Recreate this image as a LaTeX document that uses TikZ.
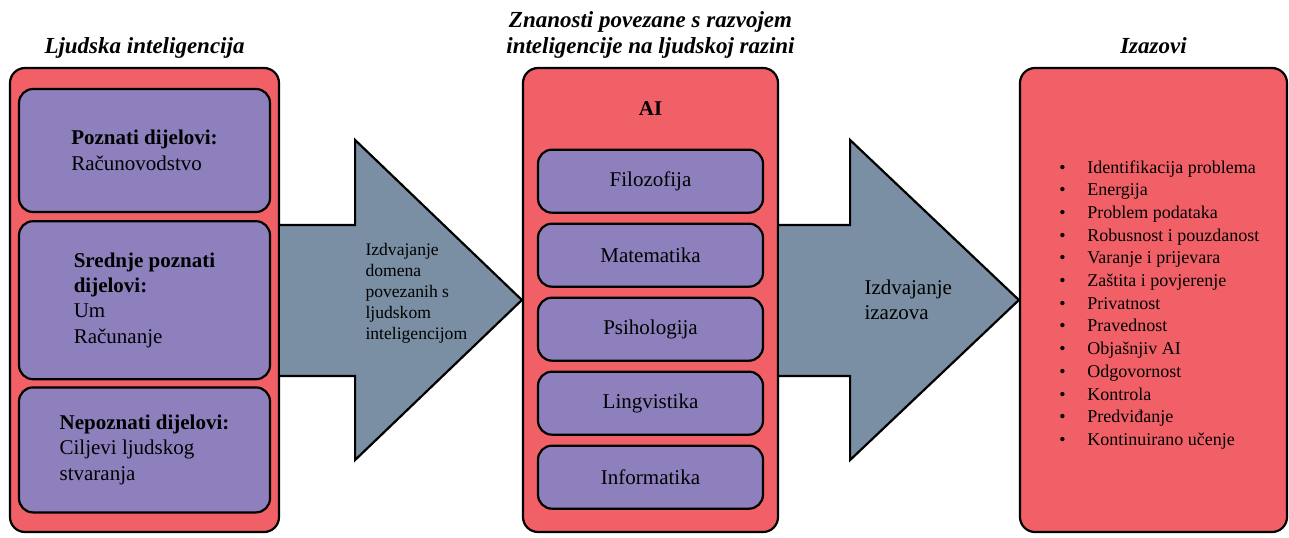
\documentclass[tikz,border=0pt]{standalone}
\usepackage{fontspec}
\setmainfont{Liberation Serif}[Ligatures=TeX]
\usepackage{tikz}
\usetikzlibrary{positioning, calc}
\definecolor{crvena}{HTML}{F06066}
\definecolor{ljubicasta}{HTML}{8E80BD}
\definecolor{siva}{HTML}{7A8FA3}
\tikzset{
    okvir/.style = {draw=black, line width=1.1pt, fill=crvena,
        rounded corners=7.5pt, minimum height=232pt, inner sep=0pt},
    kutija/.style = {draw=black, line width=1.1pt, fill=ljubicasta,
        rounded corners=7pt, inner sep=0pt, align=left,
        font=\fontsize{10.5}{12.7}\selectfont},
    lijeva/.style = {kutija, minimum width=125.5pt},
    srednja/.style = {kutija, minimum width=112.5pt, minimum height=31.5pt},
    naslov/.style = {inner sep=0pt, align=center, text depth=3pt,
        font=\fontsize{11.5}{13}\selectfont\bfseries\itshape},
    strelica/.style = {draw=black, line width=1.1pt, fill=siva, line join=miter},
    opis/.style = {inner sep=0pt, align=left, anchor=west},
}
\newcommand{\stavka}[1]{\makebox[14pt][l]{\textbullet}#1}

\begin{document}
\begin{tikzpicture}[x=0.5pt, y=-0.5pt]
            \useasboundingbox (0,0) rectangle (1289,537);
            \node (ljudi) [okvir, minimum width=134.5pt] at (144.5,300) {};
            \node (ai) [okvir, minimum width=127.5pt] at (650.5,300) {};
            \node (izazovi) [okvir, minimum width=133.5pt] at (1153.5,300) {};
            \node (t1) [naslov, above=3.5pt of ljudi] {Ljudska inteligencija};
            \node (t2) [naslov, above=3.5pt of ai] {Znanosti povezane s razvojem\\inteligencije na ljudskoj razini};
            \node (t3) [naslov, above=3.5pt of izazovi] {Izazovi};
            % ljudska inteligencija
            \node (poznati) [lijeva, minimum height=61.5pt, below=10.5pt of ljudi.north]
                {\textbf{Poznati dijelovi:}\\Računovodstvo};
            \node (srednje) [lijeva, minimum height=79pt, below=3.5pt of poznati]
                {\textbf{Srednje poznati}\\\textbf{dijelovi:}\\Um\\Računanje};
            \node (nepoznati) [lijeva, minimum height=62.5pt, below=3pt of srednje]
                {\textbf{Nepoznati dijelovi:}\\Ciljevi ljudskog\\stvaranja};
            % znanosti
            \node (ailabel) [inner sep=0pt, font=\fontsize{10.5}{12.7}\selectfont\bfseries,
                below=17pt of ai.north] {AI};
            \node (filozofija) [srednja, below=16.5pt of ailabel] {Filozofija};
            \node (matematika) [srednja, below=4.4pt of filozofija] {Matematika};
            \node (psihologija) [srednja, below=4.4pt of matematika] {Psihologija};
            \node (lingvistika) [srednja, below=4.4pt of psihologija] {Lingvistika};
            \node (informatika) [srednja, below=4.4pt of lingvistika] {Informatika};
            % strelice
            \draw[strelica] ($(ljudi.east)+(0,-75)$) -- ++(75,0) -- ++(0,-85) -- (ai.west)
                -- ($(ljudi.east)+(75,160)$) -- ++(0,-84) -- ++(-75,0);
            \draw[strelica] ($(ai.east)+(0,-75)$) -- ++(71,0) -- ++(0,-85) -- (izazovi.west)
                -- ($(ai.east)+(71,160)$) -- ++(0,-84) -- ++(-71,0);
            \node (korak1) [opis, font=\fontsize{8.8}{10.5}\selectfont] at ($(ljudi.east)+(85,-7)$)
                {Izdvajanje\\domena\\povezanih s\\ljudskom\\inteligencijom};
            \node (korak2) [opis, font=\fontsize{10.5}{12.5}\selectfont] at ($(ai.east)+(85,0)$)
                {Izdvajanje\\izazova};
            % izazovi
            \node (popis) [inner sep=0pt, align=left, anchor=north west,
                font=\fontsize{9}{11.35}\selectfont] at ($(izazovi.west)+(40,-140)$)
                {\stavka{Identifikacija problema}\\\stavka{Energija}\\\stavka{Problem podataka}\\
                 \stavka{Robusnost i pouzdanost}\\\stavka{Varanje i prijevara}\\
                 \stavka{Zaštita i povjerenje}\\\stavka{Privatnost}\\\stavka{Pravednost}\\
                 \stavka{Objašnjiv AI}\\\stavka{Odgovornost}\\\stavka{Kontrola}\\
                 \stavka{Predviđanje}\\\stavka{Kontinuirano učenje}};
\end{tikzpicture}
\end{document}
